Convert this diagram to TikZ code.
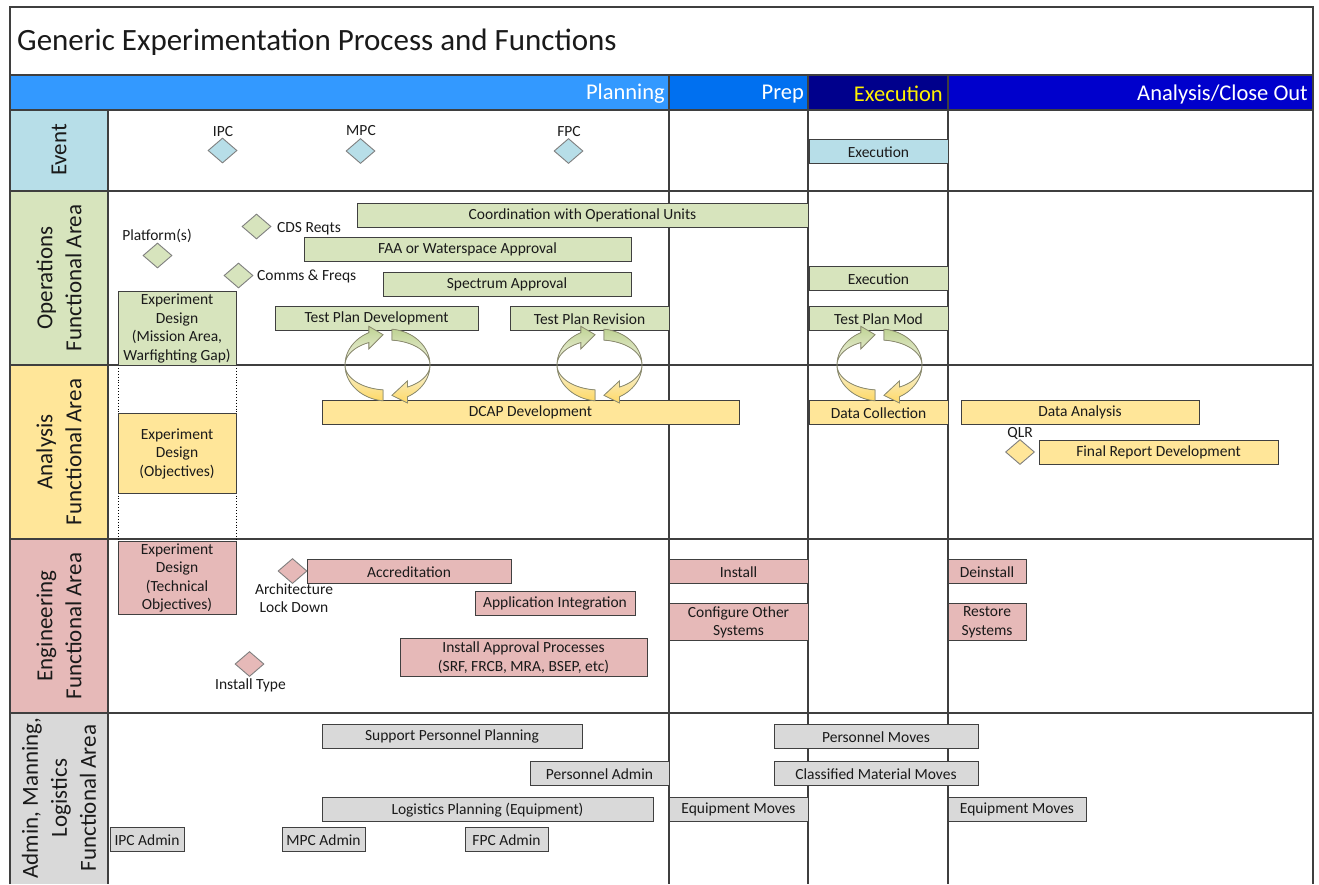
\documentclass[tikz,border=0pt]{standalone}
\usepackage{fontspec}
\setmainfont{Carlito}
\usetikzlibrary{shapes.geometric}

\definecolor{evfill}{HTML}{B7DEE8}
\definecolor{opfill}{HTML}{D7E4BD}
\definecolor{anfill}{HTML}{FFE699}
\definecolor{enfill}{HTML}{E6B9B8}
\definecolor{adfill}{HTML}{D9D9D9}
\definecolor{planblue}{RGB}{51,153,255}
\definecolor{prepblue}{RGB}{0,112,240}
\definecolor{execnavy}{RGB}{0,0,140}
\definecolor{closeblue}{RGB}{0,0,204}
\definecolor{gridgray}{HTML}{3F3F3F}
\definecolor{boxline}{HTML}{404040}
\definecolor{dmdline}{HTML}{7F7F7F}
\definecolor{txt}{HTML}{1A1A1A}
\definecolor{cycgreen}{HTML}{BFD394}
\definecolor{cycmid}{HTML}{F4F4E4}
\definecolor{cycyellow}{HTML}{FFD966}
\definecolor{cycline}{HTML}{8C8C70}

\tikzset{
  task/.style={draw=boxline, line width=1pt, inner sep=0pt, align=center,
    text=txt, font=\fontsize{15.5}{18.5}\selectfont},
  ev/.style={task, fill=evfill},
  op/.style={task, fill=opfill},
  an/.style={task, fill=anfill},
  en/.style={task, fill=enfill},
  ad/.style={task, fill=adfill},
  dmd/.style={diamond, draw=dmdline, line width=0.9pt, inner sep=0pt,
    minimum width=29pt, minimum height=25pt},
  lbl/.style={inner sep=0pt, text=txt, align=center,
    font=\fontsize{15.5}{18.5}\selectfont},
  lane/.style={rotate=90, align=center, inner sep=0pt, text=txt,
    font=\fontsize{23}{29}\selectfont},
  phase/.style={anchor=east, inner sep=0pt, text=white,
    font=\fontsize{22.5}{27}\selectfont},
  grid/.style={draw=gridgray, line width=1.2pt},
  cyc/.style={draw=cycline, line width=0.8pt, top color=cycgreen,
    bottom color=cycyellow, middle color=cycmid},
}

% task box given by its corners: name, style, x1, y1, x2, y2, text
\newcommand\taskbox[7]{%
  \node[#2, minimum width={(#5-#3)*1pt}, minimum height={(#6-#4)*1pt}]
    (#1) at ({(#3+#5)/2},{(#4+#6)/2+0.7}) {#7};}

% pair of ribbon arrows running round an ellipse centred at (#1,#2)
\newcommand\cyclepair[2]{%
  \filldraw[cyc]
    plot[domain=84:-62,samples=40] ({#1+42.5*cos(\x)},{#2-36*sin(\x)})
    -- ({#1+42.5*cos(-62)},{#2+43*sin(62)})
    -- ({#1+42.5*cos(-84)},{#2+30.5*sin(84)})
    -- ({#1+42.5*cos(-62)},{#2+18*sin(62)})
    -- plot[domain=-62:84,samples=40] ({#1+42.5*cos(\x)},{#2-25*sin(\x)})
    -- cycle;
  \filldraw[cyc]
    plot[domain=264:116,samples=40] ({#1+42.5*cos(\x)},{#2-36*sin(\x)})
    -- ({#1+42.5*cos(116)},{#2-43*sin(116)})
    -- ({#1+42.5*cos(96)},{#2-30.5*sin(96)})
    -- ({#1+42.5*cos(116)},{#2-18*sin(116)})
    -- plot[domain=116:264,samples=40] ({#1+42.5*cos(\x)},{#2-25*sin(\x)})
    -- cycle;}

\begin{document}
\begin{tikzpicture}[x=1pt,y=-1pt]
\useasboundingbox (0,0) rectangle (1319,884);
\fill[white] (0,0) rectangle (1319,884);

% phase header bar
\fill[planblue] (10,75) rectangle (669,110);
\fill[prepblue] (669,75) rectangle (808,110);
\fill[execnavy] (808,75) rectangle (948,110);
\fill[closeblue] (948,75) rectangle (1313,110);

% lane heading cells
\fill[evfill] (10,110) rectangle (108,191);
\fill[opfill] (10,191) rectangle (108,365);
\fill[anfill] (10,365) rectangle (108,539);
\fill[enfill] (10,539) rectangle (108,713);
\fill[adfill] (10,713) rectangle (108,884);

% frame and lane grid
\draw[grid] (10,884) -- (10,7) -- (1313,7) -- (1313,884);
\draw[grid] (10,75) -- (1313,75);
\foreach \yy in {110,191,365,539,713} \draw[grid] (10,\yy) -- (1313,\yy);
\draw[grid] (108,110) -- (108,884);
\foreach \xx in {669,808,948} \draw[grid] (\xx,75) -- (\xx,884);

% title and phases
\node[anchor=west, inner sep=0pt, text=txt, font=\fontsize{31}{37}\selectfont]
  (title) at (17,42) {Generic Experimentation Process and Functions};
\node[phase] (planning) at (665,94) {Planning};
\node[phase] (prep) at (804,94) {Prep};
\node[phase, text=yellow] (execution) at (943,94) {Execution};
\node[phase] (closeout) at (1308,94) {Analysis/Close Out};

% lane headings
\node[lane] (laneev) at (59,150) {Event};
\node[lane] (laneop) at (59,278) {Operations\\Functional Area};
\node[lane] (lanean) at (59,452) {Analysis\\Functional Area};
\node[lane] (laneen) at (59,626) {Engineering\\Functional Area};
\node[lane] (lanead) at (59,798) {Admin, Manning,\\Logistics\\Functional Area};

% experiment design spans the three functional lanes
\draw[black, dotted, line width=0.9pt] (118,365) -- (118,541) (236,365) -- (236,541);

% Event lane
\taskbox{evexec}{ev}{809}{139}{948}{163}{Execution}
\node[dmd, fill=evfill] (ipc) at (222.5,150.5) {};
\node[dmd, fill=evfill] (mpc) at (360.5,151) {};
\node[dmd, fill=evfill] (fpc) at (568.5,151) {};
\node[lbl] (ipclbl) at (223,132) {IPC};
\node[lbl] (mpclbl) at (361,131) {MPC};
\node[lbl] (fpclbl) at (569,132) {FPC};

% Operations lane
\taskbox{coord}{op}{357}{203}{808}{227}{Coordination with Operational Units}
\taskbox{faa}{op}{304}{237}{631}{261}{FAA or Waterspace Approval}
\taskbox{spec}{op}{383}{272}{631}{296}{Spectrum Approval}
\taskbox{opexec}{op}{809}{266}{948}{290}{Execution}
\taskbox{opdesign}{op}{118}{291}{236}{365}{Experiment\\Design\\(Mission Area,\\Warfighting Gap)}
\taskbox{tpdev}{op}{275}{306}{478}{330}{Test Plan Development}
\taskbox{tprev}{op}{510}{306}{669}{330}{Test Plan Revision}
\taskbox{tpmod}{op}{809}{306}{948}{330}{Test Plan Mod}
\node[dmd, fill=opfill] (platform) at (157.5,255.5) {};
\node[dmd, fill=opfill] (cds) at (256.5,226.5) {};
\node[dmd, fill=opfill] (comms) at (238.5,275.5) {};
\node[lbl] (platformlbl) at (157,236) {Platform(s)};
\node[lbl, anchor=west] (cdslbl) at (277,229) {CDS Reqts};
\node[lbl, anchor=west] (commslbl) at (257,276) {Comms \& Freqs};

% Analysis lane
\taskbox{dcap}{an}{322}{400}{739}{424}{DCAP Development}
\taskbox{andesign}{an}{118}{413}{236}{493}{Experiment\\Design\\(Objectives)}
\taskbox{datacol}{an}{809}{400}{948}{424}{Data Collection}
\taskbox{dataan}{an}{961}{400}{1199}{424}{Data Analysis}
\taskbox{final}{an}{1039}{440}{1278}{464}{Final Report Development}
\node[dmd, fill=anfill] (qlr) at (1020,452) {};
\node[lbl] (qlrlbl) at (1020,433) {QLR};

% Engineering lane
\taskbox{endesign}{en}{118}{541}{236}{614}{Experiment\\Design\\(Technical\\Objectives)}
\taskbox{accr}{en}{307}{559}{511}{583}{Accreditation}
\taskbox{appint}{en}{475}{591}{635}{615}{Application Integration}
\taskbox{iap}{en}{400}{638}{647}{676}{Install Approval Processes\\(SRF, FRCB, MRA, BSEP, etc)}
\taskbox{install}{en}{669}{559}{808}{583}{Install}
\taskbox{config}{en}{669}{603}{808}{640}{Configure Other\\Systems}
\taskbox{deinst}{en}{948}{559}{1026}{583}{Deinstall}
\taskbox{restore}{en}{948}{603}{1026}{640}{Restore\\Systems}
\node[dmd, fill=enfill] (arch) at (292.5,571) {};
\node[lbl] (archlbl) at (294,598) {Architecture\\Lock Down};
\node[dmd, fill=enfill] (insttype) at (249.5,664) {};
\node[lbl] (insttypelbl) at (250.5,685) {Install Type};

% Admin, Manning, Logistics lane
\taskbox{supp}{ad}{322}{724}{582}{748}{Support Personnel Planning}
\taskbox{padmin}{ad}{530}{761}{669}{785}{Personnel Admin}
\taskbox{logi}{ad}{322}{797}{653}{821}{Logistics Planning (Equipment)}
\taskbox{eqprep}{ad}{669}{797}{808}{821}{Equipment Moves}
\taskbox{ipcadm}{ad}{110}{827}{184}{851}{IPC Admin}
\taskbox{mpcadm}{ad}{282}{827}{365}{851}{MPC Admin}
\taskbox{fpcadm}{ad}{465}{827}{548}{851}{FPC Admin}
\taskbox{pmoves}{ad}{774}{724}{978}{748}{Personnel Moves}
\taskbox{cmoves}{ad}{774}{761}{978}{785}{Classified Material Moves}
\taskbox{eqclose}{ad}{948}{797}{1086}{821}{Equipment Moves}

% iteration cycles between test planning and data collection planning
\cyclepair{387.5}{365}
\cyclepair{599.5}{365}
\cyclepair{879.5}{365}
\end{tikzpicture}
\end{document}
